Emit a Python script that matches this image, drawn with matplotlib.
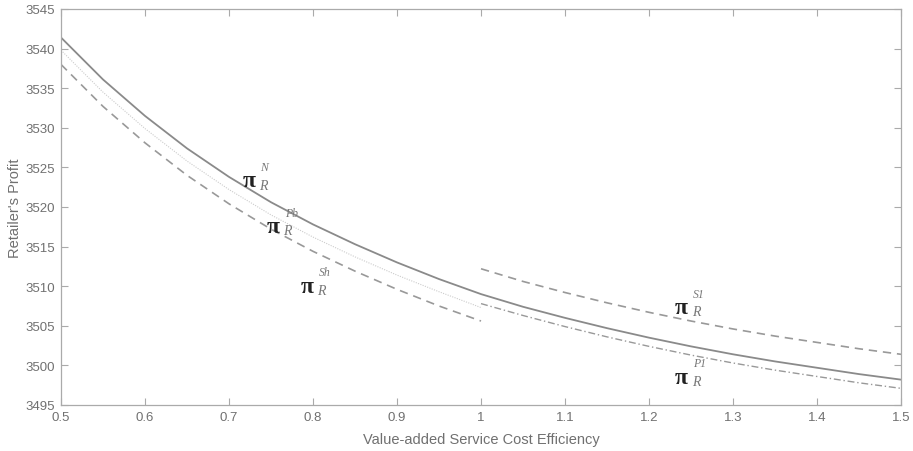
import matplotlib
matplotlib.use("Agg")
import matplotlib.pyplot as plt
from matplotlib import font_manager

x_full = [0.50, 0.55, 0.60, 0.65, 0.70, 0.75, 0.80, 0.85, 0.90, 0.95, 1.00,
          1.05, 1.10, 1.15, 1.20, 1.25, 1.30, 1.35, 1.40, 1.45, 1.50]
x_low = [0.50, 0.55, 0.60, 0.65, 0.70, 0.75, 0.80, 0.85, 0.90, 0.95, 1.00]
x_high = [1.00, 1.05, 1.10, 1.15, 1.20, 1.25, 1.30, 1.35, 1.40, 1.45, 1.50]

profit_N = [3541.4, 3536.1, 3531.5, 3527.4, 3523.8, 3520.6, 3517.8, 3515.3, 3513.0, 3510.9, 3509.0,
            3507.4, 3506.0, 3504.7, 3503.5, 3502.4, 3501.4, 3500.5, 3499.7, 3498.9, 3498.2]
profit_Pb = [3539.8, 3534.5, 3529.9, 3525.8, 3522.2, 3519.0, 3516.2, 3513.7, 3511.4, 3509.3, 3507.3]
profit_Sh = [3538.0, 3532.7, 3528.1, 3524.0, 3520.4, 3517.2, 3514.4, 3511.9, 3509.6, 3507.5, 3505.6]
profit_S1 = [3512.2, 3510.6, 3509.2, 3507.9, 3506.7, 3505.6, 3504.6, 3503.7, 3502.9, 3502.1, 3501.4]
profit_P1 = [3507.8, 3506.3, 3504.9, 3503.6, 3502.4, 3501.3, 3500.3, 3499.4, 3498.6, 3497.8, 3497.1]

x_ticks = [0.5, 0.6, 0.7, 0.8, 0.9, 1.0, 1.1, 1.2, 1.3, 1.4, 1.5]
x_tick_labels = ["0.5", "0.6", "0.7", "0.8", "0.9", "1", "1.1", "1.2", "1.3", "1.4", "1.5"]
y_ticks = [3495, 3500, 3505, 3510, 3515, 3520, 3525, 3530, 3535, 3540, 3545]

# label positions (data coords) and superscripts
labels = [("N", 0.716, 3523.3), ("Pb", 0.745, 3517.5), ("Sh", 0.785, 3510.0),
          ("S1", 1.231, 3507.3), ("P1", 1.231, 3498.5)]

avail = {f.name for f in font_manager.fontManager.ttflist}
sans = "Liberation Sans Narrow" if "Liberation Sans Narrow" in avail else "Liberation Sans"
plt.rcParams['font.family'] = [sans, 'DejaVu Sans']

fig = plt.figure(figsize=(9.13, 4.52), dpi=100)
ax = fig.add_axes([0.0668, 0.1018, 0.9201, 0.8761])

gray_txt = '#707070'
ax.plot(x_full, profit_N, color='#8a8a8a', lw=1.3, ls='-')
ax.plot(x_low, profit_Pb, color='#cccccc', lw=0.8, ls=(0, (1, 1.2)))
ax.plot(x_low, profit_Sh, color='#999999', lw=1.2, ls=(0, (5, 3.5)))
ax.plot(x_high, profit_S1, color='#999999', lw=1.2, ls=(0, (5, 3.5)))
ax.plot(x_high, profit_P1, color='#999999', lw=1.0, ls=(0, (5, 2, 1, 2)))

ax.set_xlim(0.5, 1.5)
ax.set_ylim(3495, 3545)
ax.set_xticks(x_ticks)
ax.set_xticklabels(x_tick_labels)
ax.set_yticks(y_ticks)
ax.tick_params(direction='in', top=True, right=True, length=5, width=0.8,
               colors='#aaaaaa', labelcolor=gray_txt, labelsize=9.5, pad=4)
for s in ax.spines.values():
    s.set_color('#aaaaaa')
    s.set_linewidth(0.9)

ax.set_xlabel("Value-added Service Cost Efficiency", color=gray_txt, fontsize=10.5, labelpad=7)
ax.set_ylabel("Retailer's Profit", color=gray_txt, fontsize=10.5, labelpad=3)

for sup, xv, yv in labels:
    ax.text(xv, yv, "π", fontsize=17, fontweight='bold', family='Liberation Serif',
            color='#222222', ha='left', va='center')
    ax.annotate("R", (xv, yv), xytext=(12, -3), textcoords='offset points',
                fontsize=10, style='italic', family='Liberation Serif',
                color='#777777', ha='left', va='center')
    ax.annotate(sup, (xv, yv), xytext=(13, 10), textcoords='offset points',
                fontsize=8.5, style='italic', family='Liberation Serif',
                color='#777777', ha='left', va='center')

fig.savefig("out.png", dpi=100)
